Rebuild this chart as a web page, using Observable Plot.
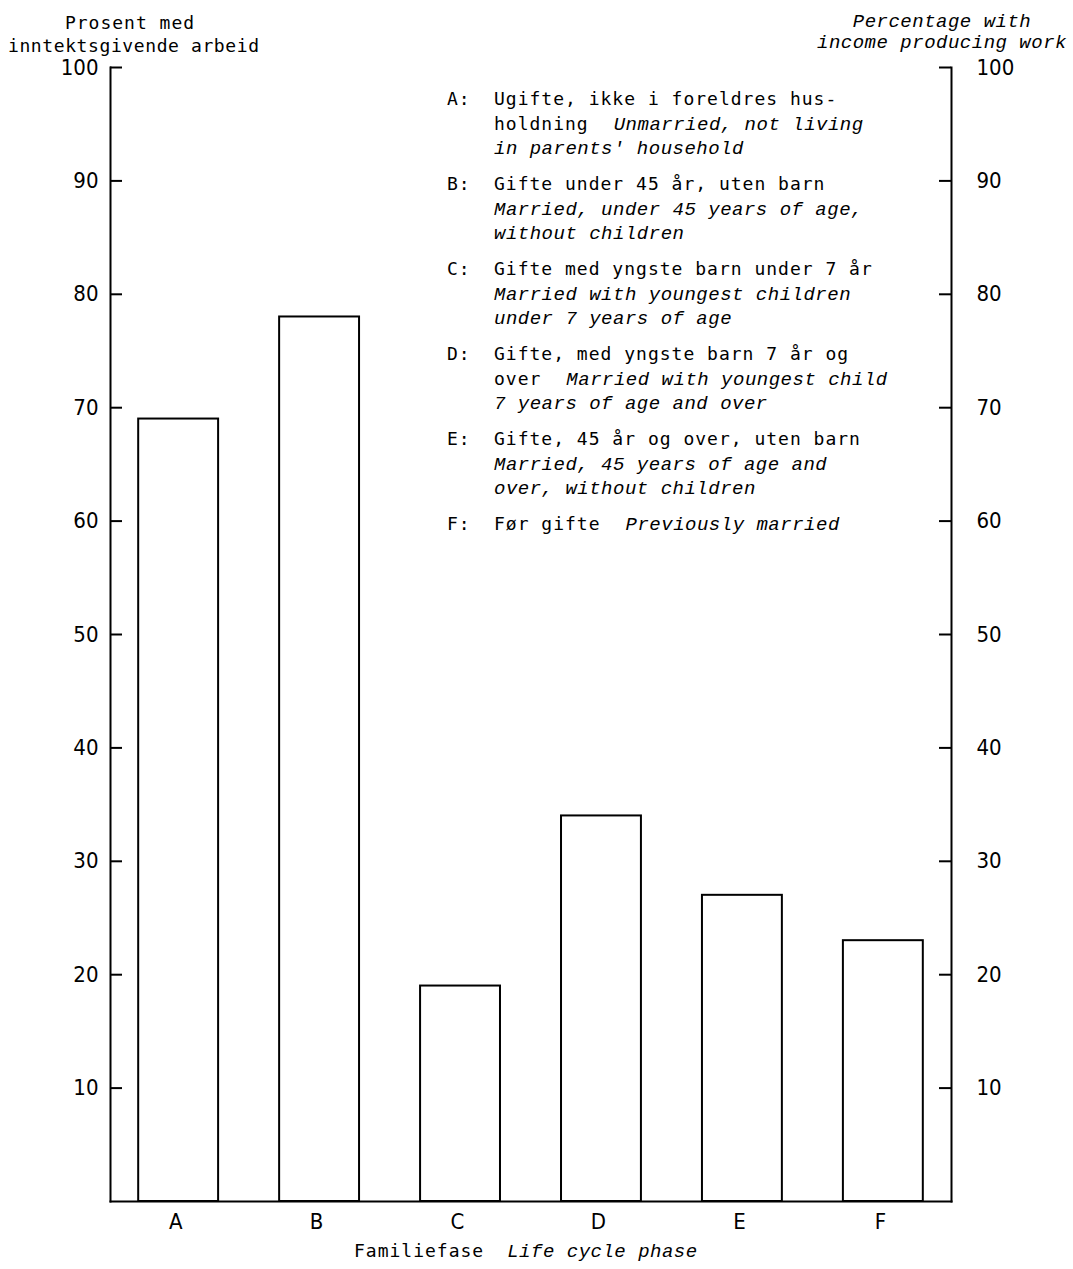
<!DOCTYPE html>
<html>
<head>
<meta charset="utf-8">
<script src="https://cdn.jsdelivr.net/npm/d3@7"></script>
<script src="https://cdn.jsdelivr.net/npm/@observablehq/plot@0.6"></script>
<style>
  html, body { margin: 0; padding: 0; background: #fff; }
  #chart svg { display: block; }
</style>
</head>
<body>
<div id="chart"></div>
<script>
// ---- Data ----
const categories = ["A", "B", "C", "D", "E", "F"];
const values = [69, 78, 19, 34, 27, 23];
const yTicks = [10, 20, 30, 40, 50, 60, 70, 80, 90, 100];

const leftTitle = ["Prosent med", "inntektsgivende arbeid"];
const rightTitle = ["Percentage with", "income producing work"];
const xTitleNo = "Familiefase";
const xTitleEn = "Life cycle phase";

const legendKeys = ["A:", "B:", "C:", "D:", "E:", "F:"];
// each line: list of [text, italic]
const legendLines = [
  [[["Ugifte, ikke i foreldres hus-", false]],
   [["holdning", false], ["Unmarried, not living", true]],
   [["in parents' household", true]]],
  [[["Gifte under 45 år, uten barn", false]],
   [["Married, under 45 years of age,", true]],
   [["without children", true]]],
  [[["Gifte med yngste barn under 7 år", false]],
   [["Married with youngest children", true]],
   [["under 7 years of age", true]]],
  [[["Gifte, med yngste barn 7 år og", false]],
   [["over", false], ["Married with youngest child", true]],
   [["7 years of age and over", true]]],
  [[["Gifte, 45 år og over, uten barn", false]],
   [["Married, 45 years of age and", true]],
   [["over, without children", true]]],
  [[["Før gifte", false], ["Previously married", true]]]
];

const data = categories.map((c, i) => ({cat: c, value: values[i]}));

const W = 1073, H = 1269;
const mL = 110, mR = 122, mT = 67, mB = 68;
const frameW = W - mL - mR;
const tickLen = 12;

const upright = "'DejaVu Sans Mono', monospace";
const italic = "'Liberation Mono', 'DejaVu Sans Mono', monospace";
const narrow = "'Liberation Sans Narrow', 'DejaVu Sans Condensed', sans-serif";

const chart = Plot.plot({
  width: W,
  height: H,
  marginLeft: mL,
  marginRight: mR,
  marginTop: mT,
  marginBottom: mB,
  x: {domain: categories, paddingInner: 0.433, paddingOuter: 0.2, round: false, label: null},
  y: {domain: [0, 100], label: null},
  style: {fontFamily: narrow, fontSize: "22px", color: "black", background: "white"},
  marks: [
    Plot.barY(data, {x: "cat", y: "value", fill: "white", stroke: "black", strokeWidth: 2}),
    Plot.frame({anchor: "left", stroke: "black", strokeWidth: 2}),
    Plot.frame({anchor: "right", stroke: "black", strokeWidth: 2}),
    Plot.frame({anchor: "bottom", stroke: "black", strokeWidth: 2}),
    Plot.tickY(yTicks, {y: d => d, insetRight: frameW - tickLen, stroke: "black", strokeWidth: 2}),
    Plot.tickY(yTicks, {y: d => d, insetLeft: frameW - tickLen, stroke: "black", strokeWidth: 2}),
    Plot.axisY(yTicks, {anchor: "left", tickSize: 0, tickPadding: 12, label: null}),
    Plot.axisY(yTicks, {anchor: "right", tickSize: 0, tickPadding: 25, label: null}),
    Plot.axisX({tickSize: 0, tickPadding: 12, dx: -3, label: null})
  ]
});

document.getElementById("chart").appendChild(chart);

// ---- Annotations ----
const svg = d3.select(chart);
const g = svg.append("g").attr("fill", "black").attr("text-anchor", "start");

// left axis title
g.append("text").attr("x", 130).attr("y", 29).attr("text-anchor", "middle")
  .style("font-family", upright).style("font-size", "18px").style("letter-spacing", "1px")
  .text(leftTitle[0]);
g.append("text").attr("x", 8).attr("y", 52).attr("text-anchor", "start")
  .style("font-family", upright).style("font-size", "18px").style("letter-spacing", "0.6px")
  .text(leftTitle[1]);

// right axis title
rightTitle.forEach((t, i) => {
  g.append("text").attr("x", 942).attr("y", 27 + i * 21).attr("text-anchor", "middle")
    .style("font-family", italic).style("font-style", "italic").style("font-size", "19px")
    .style("letter-spacing", "0.5px")
    .text(t);
});

// x axis title
const xt = g.append("text").attr("x", 354).attr("y", 1257).attr("text-anchor", "start")
  .style("font-size", "18px");
xt.append("tspan").style("font-family", upright).style("letter-spacing", "1px").text(xTitleNo);
xt.append("tspan").style("font-family", italic).style("font-style", "italic").style("font-size", "19px")
  .style("letter-spacing", "0.5px").attr("dx", 23).text(xTitleEn);

// legend
const keyX = 447, textX = 494, base0 = 105, groupStep = 85, lineStep = 24.5;
legendKeys.forEach((k, i) => {
  const by = base0 + i * groupStep;
  g.append("text").attr("x", keyX).attr("y", by).attr("text-anchor", "start")
    .style("font-family", upright).style("font-size", "18px").style("letter-spacing", "1px")
    .text(k);
  legendLines[i].forEach((line, j) => {
    const t = g.append("text").attr("x", textX).attr("y", by + j * lineStep).attr("text-anchor", "start");
    line.forEach(([s, it], m) => {
      const ts = t.append("tspan").text(s);
      if (m > 0) ts.attr("dx", 25);
      if (it) {
        ts.style("font-family", italic).style("font-style", "italic").style("font-size", "19px").style("letter-spacing", "0.5px");
      } else {
        ts.style("font-family", upright).style("font-size", "18px").style("letter-spacing", "1px");
      }
    });
  });
});
</script>
</body>
</html>
